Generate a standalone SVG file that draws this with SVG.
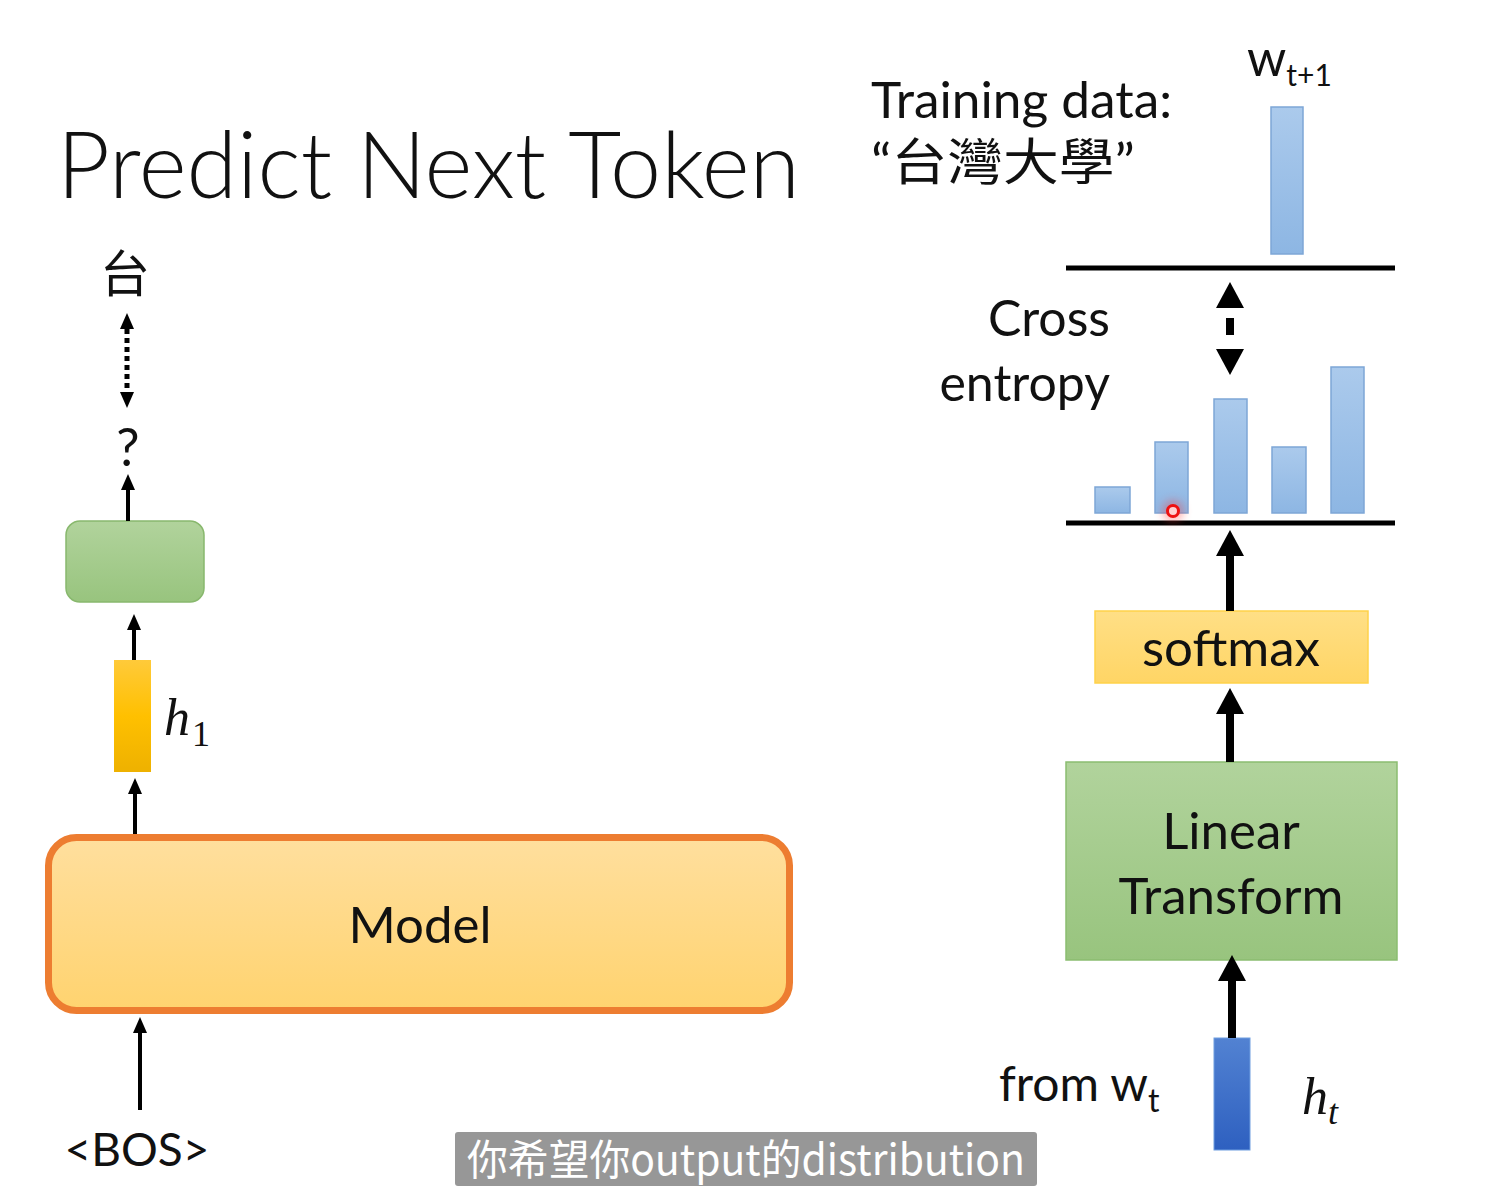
<svg xmlns="http://www.w3.org/2000/svg" width="1486" height="1199" viewBox="0 0 1486 1199">
  <style>
    .t { font-family: Lato, "Noto Sans", "Noto Sans CJK TC", sans-serif; fill: #111; }
    .cjk { font-family: Lato, "Noto Sans CJK TC", sans-serif; fill: #111; }
    .math { font-family: "Liberation Serif", "DejaVu Serif", serif; font-style: italic; fill: #111; }
    .mathup { font-family: "Liberation Serif", "DejaVu Serif", serif; fill: #111; }
    .conn { stroke: #000; fill: none; }
    .thin { stroke-width: 4; }
    .thick { stroke-width: 8; }
    .bar { fill: url(#gBar); stroke: #7ea6d6; stroke-width: 1.5; }
    .axis { stroke: #000; stroke-width: 5; }
  </style>
  <defs>
    <marker id="ahS" viewBox="0 0 16 14" refX="0" refY="7" markerWidth="16" markerHeight="14" orient="auto-start-reverse" markerUnits="userSpaceOnUse">
      <path d="M0,0 L16,7 L0,14 z" fill="#000"/>
    </marker>
    <marker id="ahL" viewBox="0 0 26 28" refX="0" refY="14" markerWidth="26" markerHeight="28" orient="auto-start-reverse" markerUnits="userSpaceOnUse">
      <path d="M0,0 L26,14 L0,28 z" fill="#000"/>
    </marker>
    <linearGradient id="gModel" x1="0" y1="0" x2="0" y2="1">
      <stop offset="0" stop-color="#ffdf9e"/>
      <stop offset="1" stop-color="#ffd36f"/>
    </linearGradient>
    <linearGradient id="gGreen" x1="0" y1="0" x2="0" y2="1">
      <stop offset="0" stop-color="#b1d39c"/>
      <stop offset="1" stop-color="#98c47e"/>
    </linearGradient>
    <linearGradient id="gH1" x1="0" y1="0" x2="0" y2="1">
      <stop offset="0" stop-color="#ffca3a"/>
      <stop offset="0.5" stop-color="#ffc000"/>
      <stop offset="1" stop-color="#eeb100"/>
    </linearGradient>
    <linearGradient id="gSoft" x1="0" y1="0" x2="0" y2="1">
      <stop offset="0" stop-color="#ffdf86"/>
      <stop offset="1" stop-color="#ffd565"/>
    </linearGradient>
    <linearGradient id="gBlue" x1="0" y1="0" x2="0" y2="1">
      <stop offset="0" stop-color="#5282d2"/>
      <stop offset="1" stop-color="#2e60c0"/>
    </linearGradient>
    <linearGradient id="gBar" x1="0" y1="0" x2="0" y2="1">
      <stop offset="0" stop-color="#abcaec"/>
      <stop offset="1" stop-color="#8db6e3"/>
    </linearGradient>
    <filter id="glow" x="-1" y="-1" width="3" height="3">
      <feGaussianBlur stdDeviation="4"/>
    </filter>
  </defs>

  <rect width="1486" height="1199" fill="#fff"/>

  <!-- title -->
  <text id="title" class="t" x="57" y="198" font-size="92" font-weight="300" textLength="743" lengthAdjust="spacingAndGlyphs">Predict Next Token</text>

  <!-- left: one prediction step -->
  <g id="target-char">
    <text class="cjk" x="125" y="292" font-size="50" text-anchor="middle">台</text>
  </g>
  <g id="unknown">
    <text class="t" x="128" y="466" font-size="52" text-anchor="middle">?</text>
  </g>
  <g id="out-box">
    <rect x="66" y="521" width="138" height="81" rx="14" fill="url(#gGreen)" stroke="#88b86d" stroke-width="1.5"/>
  </g>
  <g id="h1">
    <rect x="114" y="660" width="37" height="112" fill="url(#gH1)"/>
    <text class="math" x="164" y="735" font-size="52">h</text>
    <text class="mathup" x="192" y="746" font-size="36">1</text>
  </g>
  <g id="model">
    <rect x="48.5" y="837.5" width="741" height="173" rx="28" fill="url(#gModel)" stroke="#ed7d31" stroke-width="7"/>
    <text class="t" x="420" y="943" font-size="51" text-anchor="middle">Model</text>
  </g>
  <g id="bos">
    <text class="t" x="137" y="1166" font-size="46" text-anchor="middle">&lt;BOS&gt;</text>
  </g>

  <!-- right: output layer and loss -->
  <g id="training-data">
    <text class="t" x="871" y="118" font-size="50" textLength="301" lengthAdjust="spacingAndGlyphs">Training data:</text>
    <text class="cjk" x="871" y="180" font-size="50" textLength="264" lengthAdjust="spacingAndGlyphs">“台灣大學”</text>
  </g>
  <g id="target-dist">
    <text class="t" x="1247" y="76" font-size="50">w<tspan font-size="30" dy="10">t+1</tspan></text>
    <rect class="bar" x="1271" y="107" width="32" height="147"/>
    <line class="axis" x1="1066" y1="268" x2="1395" y2="268"/>
  </g>
  <g id="cross-entropy">
    <text class="t" x="1110" y="336" font-size="50" text-anchor="end">Cross</text>
    <text class="t" x="1110" y="401" font-size="50" text-anchor="end">entropy</text>
  </g>
  <g id="pred-dist">
    <rect class="bar" x="1095" y="487" width="35" height="26"/>
    <rect class="bar" x="1155" y="442" width="33" height="71"/>
    <rect class="bar" x="1214" y="399" width="33" height="114"/>
    <rect class="bar" x="1272" y="447" width="34" height="66"/>
    <rect class="bar" x="1331" y="367" width="33" height="146"/>
    <line class="axis" x1="1066" y1="523" x2="1395" y2="523"/>
  </g>
  <g id="pointer">
    <circle cx="1173" cy="511" r="11" fill="#ff3030" opacity="0.35" filter="url(#glow)"/>
    <circle cx="1173" cy="511" r="5.5" fill="#ffd0d0" stroke="#ee1111" stroke-width="3"/>
  </g>
  <g id="softmax">
    <rect x="1095" y="611" width="273" height="72" fill="url(#gSoft)" stroke="#ffd24a" stroke-width="1.5"/>
    <text class="t" x="1231" y="666" font-size="51" text-anchor="middle">softmax</text>
  </g>
  <g id="linear">
    <rect x="1066" y="762" width="331" height="198" fill="url(#gGreen)" stroke="#8bbd70" stroke-width="1.5"/>
    <text class="t" x="1231" y="849" font-size="51" text-anchor="middle">Linear</text>
    <text class="t" x="1231" y="914" font-size="51" text-anchor="middle">Transform</text>
  </g>
  <g id="ht">
    <rect x="1214" y="1038" width="36" height="112" fill="url(#gBlue)" stroke="#6f9ee0" stroke-width="1"/>
    <text class="t" x="999" y="1101" font-size="48">from w<tspan font-size="32" dy="11">t</tspan></text>
    <text class="math" x="1302" y="1114" font-size="52">h<tspan font-size="36" dy="10">t</tspan></text>
  </g>

  <!-- connectors -->
  <g id="connectors">
    <line class="conn thin" x1="140" y1="1110" x2="140" y2="1033" marker-end="url(#ahS)"/>
    <line class="conn thin" x1="135" y1="834" x2="135" y2="794" marker-end="url(#ahS)"/>
    <line class="conn thin" x1="134" y1="660" x2="134" y2="630" marker-end="url(#ahS)"/>
    <line class="conn thin" x1="128" y1="521" x2="128" y2="490" marker-end="url(#ahS)"/>
    <line class="conn" stroke-width="5" x1="127" y1="329" x2="127" y2="392" stroke-dasharray="5 4" marker-start="url(#ahS)" marker-end="url(#ahS)"/>

    <line class="conn thick" x1="1232" y1="1038" x2="1232" y2="981" marker-end="url(#ahL)"/>
    <line class="conn thick" x1="1230" y1="762" x2="1230" y2="714" marker-end="url(#ahL)"/>
    <line class="conn thick" x1="1230" y1="611" x2="1230" y2="556" marker-end="url(#ahL)"/>
    <line class="conn thick" x1="1230" y1="308" x2="1230" y2="349" stroke-dasharray="0 10 17 14" marker-start="url(#ahL)" marker-end="url(#ahL)"/>
  </g>

  <!-- caption bar -->
  <g id="caption">
    <rect x="455" y="1132" width="582" height="54" rx="3" fill="#979797"/>
    <text x="467" y="1175" font-size="42" fill="#fff" font-family="'Noto Sans CJK SC', sans-serif" textLength="558" lengthAdjust="spacingAndGlyphs">你希望你output的distribution</text>
  </g>
</svg>
